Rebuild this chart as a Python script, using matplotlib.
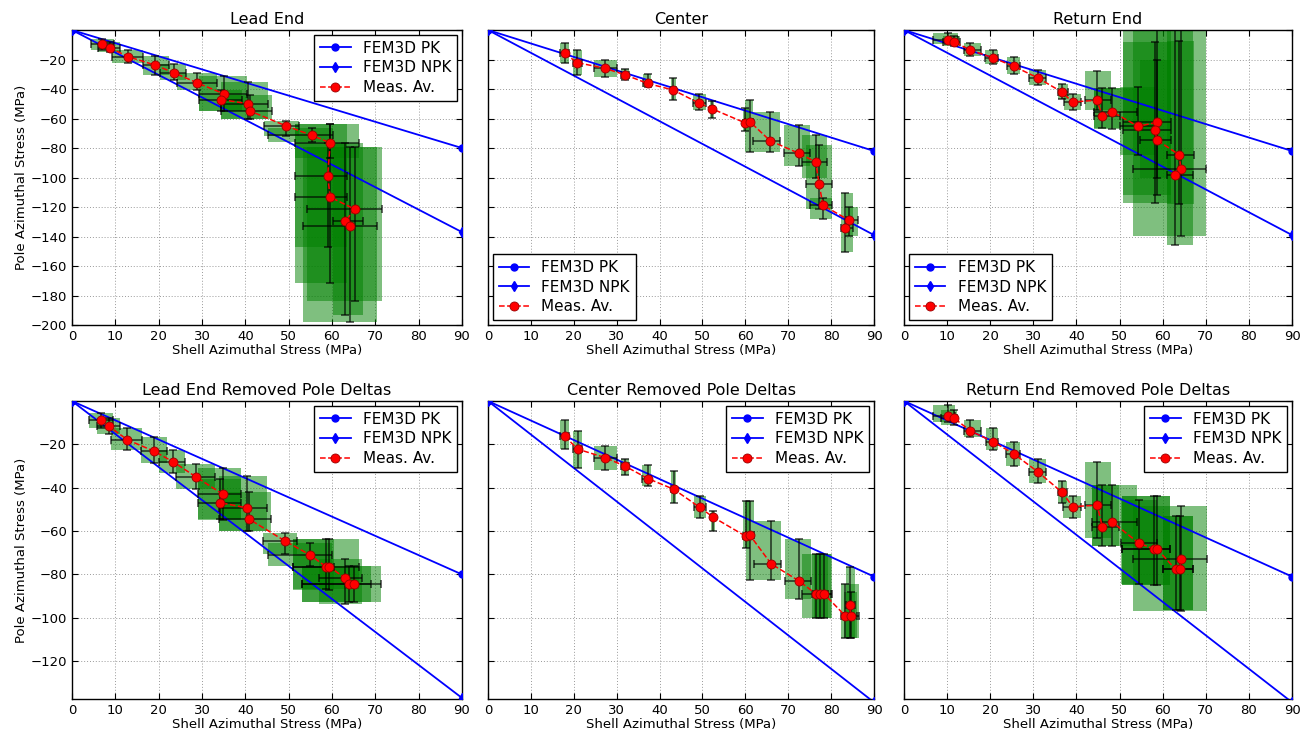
import numpy as np
import matplotlib
matplotlib.use("Agg")
import matplotlib.pyplot as plt
from matplotlib.patches import Rectangle

# each row: x, y, x_min, x_max, y_min, y_max  (MPa)
lead_end = [
    [7.0, -9.3, 4.3, 9.8, -13.5, -6.3],
    [8.8, -12.2, 6.1, 11.2, -15.1, -7.9],
    [13.0, -18.1, 9.3, 16.5, -22.6, -13.6],
    [19.1, -23.7, 16.3, 22.3, -30.5, -17.4],
    [23.5, -28.9, 20.3, 26.3, -33.9, -23.3],
    [28.8, -35.7, 24.3, 33.4, -40.9, -28.9],
    [35.1, -43.3, 29.4, 40.3, -54.9, -31.2],
    [34.5, -47.2, 29.4, 39.2, -54.9, -40.7],
    [40.6, -49.9, 34.5, 45.3, -60.3, -35.0],
    [41.1, -54.9, 34.5, 46.2, -60.3, -44.0],
    [49.4, -65.0, 44.3, 52.5, -71.6, -61.7],
    [55.3, -71.3, 45.3, 60.3, -76.0, -66.2],
    [59.6, -76.5, 51.5, 66.2, -87.0, -64.0],
    [59.0, -98.9, 51.5, 63.4, -147.0, -76.6],
    [59.6, -113.3, 51.5, 63.4, -171.5, -64.0],
    [65.2, -121.4, 54.3, 71.5, -183.5, -79.0],
    [63.1, -129.8, 60.3, 67.2, -193.0, -76.6],
    [64.2, -132.7, 53.4, 70.3, -198.0, -79.0],
]

center = [
    [17.9, -15.9, 16.8, 18.8, -22.1, -8.6],
    [20.8, -22.1, 19.9, 21.9, -30.7, -13.7],
    [27.2, -25.9, 24.8, 30.0, -31.9, -20.5],
    [31.9, -30.3, 31.0, 32.8, -34.1, -26.6],
    [37.2, -36.2, 36.1, 38.0, -38.7, -29.6],
    [43.2, -40.7, 42.6, 43.8, -47.3, -32.3],
    [49.1, -49.4, 47.9, 50.9, -53.9, -43.7],
    [52.3, -53.5, 51.8, 52.8, -59.6, -48.2],
    [60.0, -63.0, 59.4, 60.9, -68.7, -52.8],
    [61.1, -62.3, 60.0, 61.9, -82.8, -47.1],
    [65.8, -75.1, 61.9, 68.1, -82.8, -55.5],
    [72.4, -83.5, 68.9, 75.0, -91.9, -64.2],
    [76.4, -89.4, 73.1, 79.1, -100.6, -71.0],
    [77.2, -104.4, 74.1, 80.1, -121.5, -77.8],
    [78.1, -118.8, 75.0, 80.1, -128.3, -113.8],
    [84.2, -129.0, 83.4, 86.3, -139.4, -120.0],
    [83.2, -134.2, 82.2, 85.1, -150.6, -110.8],
]

return_end = [
    [10.1, -6.8, 6.8, 12.6, -9.5, -1.8],
    [11.5, -7.9, 9.0, 13.0, -10.5, -4.0],
    [15.4, -13.6, 13.8, 17.9, -17.7, -8.6],
    [20.6, -18.8, 18.7, 21.9, -22.7, -13.2],
    [25.4, -24.5, 23.8, 26.9, -29.9, -18.6],
    [31.0, -32.4, 28.9, 32.9, -37.4, -26.8],
    [36.6, -42.0, 35.8, 38.0, -46.7, -36.3],
    [39.1, -48.8, 37.0, 41.1, -54.0, -43.1],
    [44.7, -47.6, 42.0, 48.0, -54.4, -27.7],
    [46.0, -58.0, 44.0, 50.2, -66.2, -39.0],
    [48.2, -55.3, 44.0, 54.1, -67.0, -39.0],
    [54.3, -65.3, 50.2, 58.3, -84.8, -38.8],
    [58.6, -62.6, 50.9, 62.0, -112.0, 0.0],
    [58.2, -68.0, 50.9, 62.0, -117.0, -8.0],
    [58.7, -74.6, 54.7, 62.0, -100.0, -20.0],
    [63.8, -84.6, 61.1, 67.2, -117.7, -7.7],
    [64.2, -93.9, 53.1, 70.1, -139.7, 3.0],
    [62.9, -98.4, 60.9, 67.1, -145.6, 0.0],
]

lead_end_rpd = [
    [6.7, -8.7, 4.0, 9.5, -12.3, -5.4],
    [8.5, -11.6, 5.7, 11.2, -15.0, -8.0],
    [12.8, -17.9, 9.0, 16.2, -22.8, -12.3],
    [18.9, -23.1, 16.0, 22.0, -28.4, -16.6],
    [23.4, -28.1, 20.1, 26.0, -33.0, -22.8],
    [28.6, -35.0, 24.0, 33.0, -40.7, -28.9],
    [34.8, -43.0, 29.0, 39.1, -55.0, -30.7],
    [34.2, -46.9, 29.0, 39.1, -54.5, -36.1],
    [40.4, -49.3, 34.0, 44.9, -59.9, -34.6],
    [40.8, -54.4, 34.0, 46.0, -59.9, -42.2],
    [49.1, -64.5, 44.1, 51.9, -70.7, -60.7],
    [55.0, -71.1, 45.2, 60.0, -76.0, -65.6],
    [58.6, -76.4, 51.1, 66.2, -86.8, -63.8],
    [59.4, -76.4, 51.1, 60.5, -87.1, -63.8],
    [62.9, -81.6, 57.0, 67.0, -93.6, -72.9],
    [63.9, -84.2, 53.0, 69.0, -92.6, -76.0],
    [65.0, -84.2, 53.0, 71.2, -92.6, -76.0],
]

center_rpd = [
    [17.9, -16.2, 16.9, 19.0, -22.1, -8.9],
    [20.9, -22.2, 19.8, 22.0, -31.0, -13.9],
    [27.3, -26.1, 24.8, 30.0, -32.0, -20.8],
    [32.0, -30.1, 31.1, 32.9, -34.0, -26.7],
    [37.3, -35.8, 36.0, 38.1, -39.0, -29.7],
    [43.3, -40.7, 42.7, 43.9, -46.9, -32.5],
    [49.4, -49.1, 48.1, 50.9, -54.1, -43.9],
    [52.5, -53.6, 52.0, 53.0, -59.9, -50.7],
    [60.1, -62.4, 59.5, 61.0, -68.0, -46.3],
    [61.1, -62.0, 60.1, 62.1, -82.4, -46.3],
    [66.0, -75.1, 62.1, 68.4, -82.4, -55.4],
    [72.5, -83.0, 69.2, 75.3, -91.5, -63.6],
    [76.4, -88.9, 73.3, 80.3, -100.2, -70.6],
    [77.4, -88.9, 75.5, 79.3, -100.2, -70.6],
    [78.3, -88.9, 76.0, 80.0, -100.2, -70.6],
    [83.3, -99.1, 82.4, 86.5, -109.3, -84.3],
    [84.6, -99.1, 83.0, 86.0, -109.3, -88.0],
    [84.3, -94.1, 83.5, 85.5, -109.3, -76.7],
]

return_end_rpd = [
    [10.1, -6.8, 6.8, 11.8, -9.9, -1.8],
    [11.6, -7.9, 8.5, 12.2, -11.0, -4.0],
    [15.4, -13.8, 13.8, 17.8, -16.7, -8.8],
    [20.6, -18.7, 18.9, 21.9, -22.8, -12.6],
    [25.4, -24.3, 23.7, 26.9, -30.0, -18.7],
    [31.0, -32.6, 28.9, 33.0, -37.9, -26.6],
    [36.7, -42.2, 35.8, 37.9, -47.0, -36.7],
    [39.1, -48.7, 36.9, 41.0, -53.9, -44.0],
    [44.8, -48.1, 42.0, 48.0, -63.0, -28.0],
    [46.0, -58.1, 43.7, 49.9, -66.8, -38.7],
    [48.3, -55.8, 43.7, 54.1, -66.8, -38.7],
    [54.4, -65.5, 50.3, 58.6, -84.5, -45.5],
    [58.0, -68.3, 50.6, 61.6, -85.0, -44.0],
    [58.7, -68.3, 50.6, 61.6, -85.0, -44.0],
    [63.0, -77.7, 60.0, 67.1, -96.6, -53.0],
    [64.0, -77.7, 60.0, 67.1, -96.6, -53.0],
    [64.2, -73.1, 53.0, 70.2, -97.1, -48.5],
]

panels = [lead_end, center, return_end, lead_end_rpd, center_rpd, return_end_rpd]
titles = ["Lead End", "Center", "Return End",
          "Lead End Removed Pole Deltas", "Center Removed Pole Deltas",
          "Return End Removed Pole Deltas"]
# FEM3D model lines go from (0, 0) to (90, end value)
x_model = [0, 90]
pk_end = [-80, -82, -82, -80, -81, -81]
npk_end = [-137, -139, -139, -137, -139, -139]
legend_locs = ["upper right", "lower left", "lower left",
               "upper right", "upper right", "upper right"]

plt.rcParams["font.family"] = "DejaVu Sans"

fig = plt.figure(figsize=(13.01, 7.38), dpi=100)

# axes positions in figure fractions
lefts = [0.0553, 0.3751, 0.6949]
widths = [0.2998, 0.2967, 0.2982]
bottoms = [0.5596, 0.0528]
heights = [0.3997, 0.4038]


def draw_panel(ax, rows, title, pk, npk, loc):
    rows = np.array(rows)
    x, y, x0, x1, y0, y1 = rows.T

    # shaded range boxes
    for xa, xb, ya, yb in zip(x0, x1, y0, y1):
        ax.add_patch(Rectangle((xa, ya), xb - xa, yb - ya, facecolor="green",
                               edgecolor="none", alpha=0.5, zorder=1))

    ax.plot(x_model, [0, pk], "b-o", lw=1.3, ms=5, mec="b", label="FEM3D PK", zorder=3)
    ax.plot(x_model, [0, npk], "b-d", lw=1.3, ms=5, mec="b", label="FEM3D NPK", zorder=3)

    ax.errorbar(x, y, xerr=[x - x0, x1 - x], yerr=[y - y0, y1 - y], fmt="none",
                ecolor="k", elinewidth=1.1, capsize=3, capthick=1.1, alpha=0.75, zorder=4)
    ax.plot(x, y, "r--o", lw=1.1, ms=6.5, mec="#990000", mew=0.6,
            label="Meas. Av.", zorder=5)

    ax.set_xlim(0, 90)
    ax.set_xticks(np.arange(0, 91, 10))
    ax.set_title(title, fontsize=11.5, pad=4)
    ax.set_xlabel("Shell Azimuthal Stress (MPa)", fontsize=9.5, labelpad=1)
    ax.grid(True, ls=(0, (1, 2)), color="#9a9a9a", lw=0.7)
    ax.set_axisbelow(True)
    ax.tick_params(direction="in", top=True, right=True, labelsize=9.5, length=4)
    for sp in ax.spines.values():
        sp.set_color("black")
        sp.set_linewidth(1.0)

    leg = ax.legend(loc=loc, fontsize=11, numpoints=1, fancybox=False,
                    framealpha=1, edgecolor="black", labelspacing=0.3,
                    borderaxespad=0.3, handlelength=2.0)
    leg.get_frame().set_linewidth(1.0)


for i, rows in enumerate(panels):
    row, col = divmod(i, 3)
    ax = fig.add_axes([lefts[col], bottoms[row], widths[col], heights[row]])
    draw_panel(ax, rows, titles[i], pk_end[i], npk_end[i], legend_locs[i])
    if row == 0:
        ax.set_ylim(-200, 0)
        ax.set_yticks(np.arange(-200, 1, 20))
    else:
        ax.set_ylim(-137.5, 0)
        ax.set_yticks(np.arange(-120, 1, 20))
    if col == 0:
        labels = [str(int(v)) if v != 0 else "" for v in ax.get_yticks()]
        labels = [l.replace("-", "\u2212") for l in labels]
        ax.set_yticklabels(labels)
        ax.set_ylabel("Pole Azimuthal Stress (MPa)", fontsize=9.5, labelpad=2)
    else:
        ax.set_yticklabels([])

fig.savefig("out.png", dpi=100)
